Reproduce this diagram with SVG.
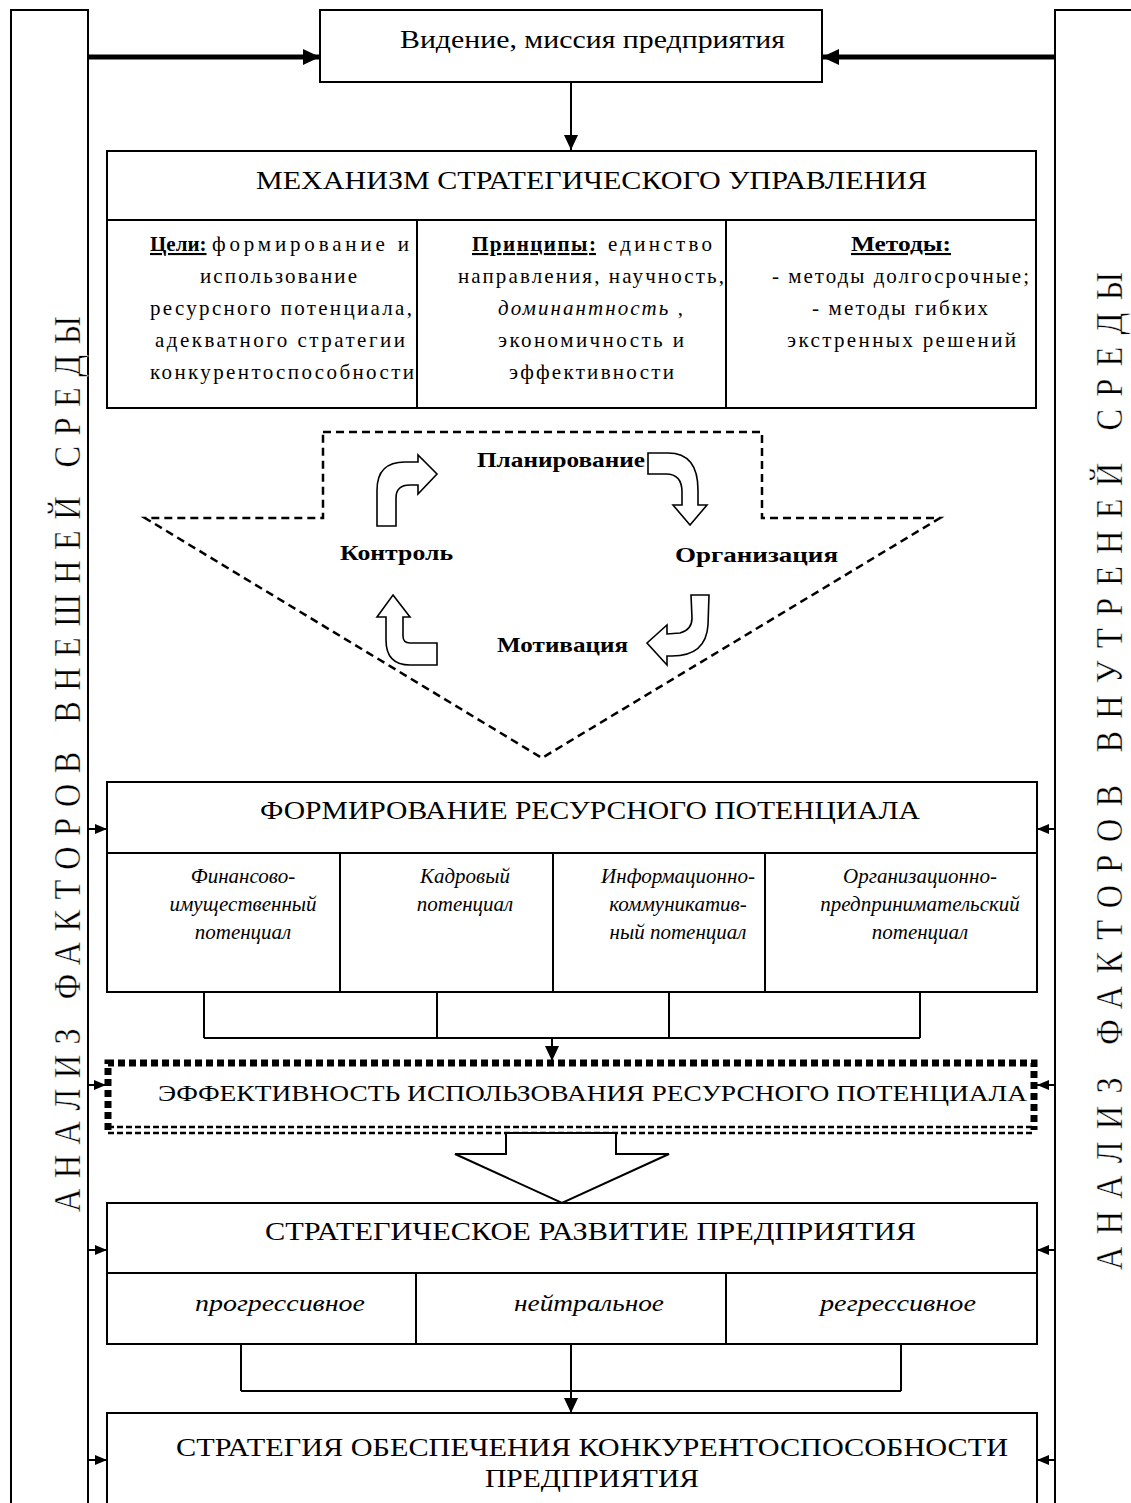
<svg xmlns="http://www.w3.org/2000/svg" width="1131" height="1503" viewBox="0 0 1131 1503">
<defs>
<marker id="ah" markerWidth="12" markerHeight="10" refX="12" refY="5" orient="auto" markerUnits="userSpaceOnUse"><path d="M0,0 L12,5 L0,10 Z" fill="#000"/></marker>
<marker id="ahv" markerWidth="15" markerHeight="14" refX="15" refY="7" orient="auto" markerUnits="userSpaceOnUse"><path d="M0,0 L15,7 L0,14 Z" fill="#000"/></marker>
<marker id="ahb" markerWidth="17" markerHeight="16" refX="17" refY="8" orient="auto" markerUnits="userSpaceOnUse"><path d="M0,0 L17,8 L0,16 Z" fill="#000"/></marker>
</defs>
<style>
.ln{stroke:#000;stroke-width:2;fill:none}
.box{fill:#fff;stroke:#000;stroke-width:2}
.ha{fill:#fff;stroke:#000;stroke-width:1.6}
.t{font-family:"Liberation Serif","Times New Roman",serif;fill:#000}
.h{font-size:25px}
.c{font-size:21px}
.i{font-size:21px;font-style:italic}
.b{font-weight:bold}
.u{text-decoration:underline}
.v{font-size:38px;stroke:#fff;stroke-width:0.4}
</style>
<rect width="1131" height="1503" fill="#fff"/>

<g id="panel-left">
<path class="ln" d="M11 1503 V10 H88 V1503"/>
<text class="t v" transform="translate(80,1212) rotate(-90) scale(0.85,1)" textLength="1054" lengthAdjust="spacing">АНАЛИЗ ФАКТОРОВ ВНЕШНЕЙ СРЕДЫ</text>
</g>
<g id="panel-right">
<path class="ln" d="M1055 1503 V10 H1131"/>
<text class="t v" transform="translate(1122,1270) rotate(-90) scale(0.85,1)" textLength="1174" lengthAdjust="spacing">АНАЛИЗ ФАКТОРОВ ВНУТРЕНЕЙ СРЕДЫ</text>
</g>

<g id="vision">
<rect class="box" x="320" y="10" width="502" height="72"/>
<text class="t" x="400" y="48" font-size="26" textLength="385" lengthAdjust="spacingAndGlyphs">Видение, миссия предприятия</text>
</g>

<g id="mechanism">
<rect class="box" x="107" y="151" width="929" height="257"/>
<line class="ln" x1="107" y1="220" x2="1036" y2="220"/>
<line class="ln" x1="417" y1="220" x2="417" y2="408"/>
<line class="ln" x1="726" y1="220" x2="726" y2="408"/>
<text class="t h" x="256" y="189" textLength="671" lengthAdjust="spacingAndGlyphs">МЕХАНИЗМ СТРАТЕГИЧЕСКОГО УПРАВЛЕНИЯ</text>
<text class="t c b u" x="150" y="251">Цели:</text>
<text class="t c" x="212" y="251" textLength="197" lengthAdjust="spacing">формирование и</text>
<text class="t c" x="200" y="283" textLength="157" lengthAdjust="spacing">использование</text>
<text class="t c" x="150" y="315" textLength="262" lengthAdjust="spacing">ресурсного потенциала,</text>
<text class="t c" x="155" y="347" textLength="250" lengthAdjust="spacing">адекватного стратегии</text>
<text class="t c" x="150" y="379" textLength="264" lengthAdjust="spacing">конкурентоспособности</text>
<text class="t c b u" x="472" y="251" textLength="124" lengthAdjust="spacing">Принципы:</text>
<text class="t c" x="608" y="251" textLength="104" lengthAdjust="spacing">единство</text>
<text class="t c" x="458" y="283" textLength="266" lengthAdjust="spacing">направления, научность,</text>
<text class="t c" x="498" y="315" textLength="185" lengthAdjust="spacing"><tspan font-style="italic">доминантность</tspan> ,</text>
<text class="t c" x="498" y="347" textLength="186" lengthAdjust="spacing">экономичность и</text>
<text class="t c" x="509" y="379" textLength="165" lengthAdjust="spacing">эффективности</text>
<text class="t c b u" x="851" y="251" textLength="100" lengthAdjust="spacingAndGlyphs">Методы:</text>
<text class="t c" x="772" y="283" textLength="257" lengthAdjust="spacing">- методы долгосрочные;</text>
<text class="t c" x="812" y="315" textLength="176" lengthAdjust="spacing">- методы гибких</text>
<text class="t c" x="787" y="347" textLength="229" lengthAdjust="spacing">экстренных решений</text>
</g>

<g id="cycle">
<path d="M323 432 L762 432 L762 518 L940 518 L542 758 L145 518 L323 518 Z" fill="none" stroke="#000" stroke-width="2.5" stroke-dasharray="8 5"/>
<path class="ha" d="M377 526 L377 490 Q377 462 405 462 L418 462 L418 455 L437 474 L418 494 L418 485 L410 485 Q396 485 396 498 L396 526 Z"/>
<path class="ha" d="M648 453 L668 453 Q698 453 698 490 L698 505 L707 505 L690 525 L673 505 L682 505 L682 492 Q682 474 666 474 L648 474 Z"/>
<path class="ha" d="M691 595 L709 595 L708 625 Q706 656 672 656 L667 656 L667 665 L647 643 L667 625 L667 634 L680 633 Q692 630 692 618 Z"/>
<path class="ha" d="M393 595 L410 617 L403 617 L403 636 Q403 643 410 643 L437 643 L437 665 L410 665 Q386 665 386 640 L386 617 L377 617 Z"/>
<text class="t b" x="477" y="467" font-size="22" textLength="168" lengthAdjust="spacingAndGlyphs">Планирование</text>
<text class="t b" x="340" y="560" font-size="22" textLength="113" lengthAdjust="spacingAndGlyphs">Контроль</text>
<text class="t b" x="675" y="562" font-size="22" textLength="163" lengthAdjust="spacingAndGlyphs">Организация</text>
<text class="t b" x="497" y="652" font-size="22" textLength="131" lengthAdjust="spacingAndGlyphs">Мотивация</text>
</g>

<g id="formation">
<rect class="box" x="107" y="782" width="930" height="210"/>
<line class="ln" x1="107" y1="853" x2="1037" y2="853"/>
<line class="ln" x1="340" y1="853" x2="340" y2="992"/>
<line class="ln" x1="553" y1="853" x2="553" y2="992"/>
<line class="ln" x1="765" y1="853" x2="765" y2="992"/>
<text class="t h" x="260" y="819" textLength="660" lengthAdjust="spacingAndGlyphs">ФОРМИРОВАНИЕ РЕСУРСНОГО ПОТЕНЦИАЛА</text>
<g class="t i" text-anchor="middle">
<text x="243" y="883">Финансово-</text>
<text x="243" y="911">имущественный</text>
<text x="243" y="939">потенциал</text>
<text x="465" y="883">Кадровый</text>
<text x="465" y="911">потенциал</text>
<text x="678" y="883">Информационно-</text>
<text x="678" y="911">коммуникатив-</text>
<text x="678" y="939">ный потенциал</text>
<text x="920" y="883">Организационно-</text>
<text x="920" y="911">предпринимательский</text>
<text x="920" y="939">потенциал</text>
</g>
</g>

<g id="efficiency">
<path d="M108 1130 V1063 H1034 V1130" fill="none" stroke="#000" stroke-width="7" stroke-dasharray="7 4"/>
<line x1="108" y1="1127" x2="1034" y2="1127" stroke="#000" stroke-width="2.5" stroke-dasharray="6 3"/>
<line x1="108" y1="1133" x2="1034" y2="1133" stroke="#000" stroke-width="2.5" stroke-dasharray="6 3"/>
<text class="t" x="158" y="1101" font-size="24" textLength="869" lengthAdjust="spacingAndGlyphs">ЭФФЕКТИВНОСТЬ ИСПОЛЬЗОВАНИЯ  РЕСУРСНОГО ПОТЕНЦИАЛА</text>
</g>

<g id="development">
<rect class="box" x="107" y="1203" width="930" height="141"/>
<line class="ln" x1="107" y1="1273" x2="1037" y2="1273"/>
<line class="ln" x1="416" y1="1273" x2="416" y2="1344"/>
<line class="ln" x1="726" y1="1273" x2="726" y2="1344"/>
<text class="t" x="265" y="1240" font-size="26" textLength="651" lengthAdjust="spacingAndGlyphs">СТРАТЕГИЧЕСКОЕ РАЗВИТИЕ ПРЕДПРИЯТИЯ</text>
<text class="t" x="195" y="1311" font-size="24" font-style="italic" textLength="170" lengthAdjust="spacingAndGlyphs">прогрессивное</text>
<text class="t" x="514" y="1311" font-size="24" font-style="italic" textLength="150" lengthAdjust="spacingAndGlyphs">нейтральное</text>
<text class="t" x="820" y="1311" font-size="24" font-style="italic" textLength="156" lengthAdjust="spacingAndGlyphs">регрессивное</text>
</g>

<g id="strategy">
<rect class="box" x="107" y="1413" width="930" height="100"/>
<text class="t" x="176" y="1456" font-size="26" textLength="832" lengthAdjust="spacingAndGlyphs">СТРАТЕГИЯ ОБЕСПЕЧЕНИЯ КОНКУРЕНТОСПОСОБНОСТИ</text>
<text class="t" x="485" y="1487" font-size="26" textLength="214" lengthAdjust="spacingAndGlyphs">ПРЕДПРИЯТИЯ</text>
</g>

<g id="connectors">
<line x1="88" y1="57" x2="320" y2="57" stroke="#000" stroke-width="5" marker-end="url(#ahb)"/>
<line x1="1055" y1="57" x2="822" y2="57" stroke="#000" stroke-width="5" marker-end="url(#ahb)"/>
<line class="ln" x1="571" y1="82" x2="571" y2="150" marker-end="url(#ahv)"/>
<path class="ln" d="M204 992 V1038 M437 992 V1038 M669 992 V1038 M920 992 V1038 M204 1038 H920"/>
<line class="ln" x1="552" y1="1038" x2="552" y2="1061" marker-end="url(#ahv)"/>
<path class="box" d="M506 1133 L506 1154 L455 1154 L562 1203 L669 1154 L616 1154 L616 1133 Z"/>
<path class="ln" d="M241 1344 V1391 M571 1344 V1391 M901 1344 V1391 M241 1391 H901"/>
<line class="ln" x1="571" y1="1391" x2="571" y2="1413" marker-end="url(#ahv)"/>
<line class="ln" x1="88" y1="829" x2="107" y2="829" marker-end="url(#ah)"/>
<line class="ln" x1="88" y1="1085" x2="106" y2="1085" marker-end="url(#ah)"/>
<line class="ln" x1="88" y1="1250" x2="107" y2="1250" marker-end="url(#ah)"/>
<line class="ln" x1="88" y1="1460" x2="107" y2="1460" marker-end="url(#ah)"/>
<line class="ln" x1="1055" y1="829" x2="1037" y2="829" marker-end="url(#ah)"/>
<line class="ln" x1="1055" y1="1085" x2="1037" y2="1085" marker-end="url(#ah)"/>
<line class="ln" x1="1055" y1="1250" x2="1037" y2="1250" marker-end="url(#ah)"/>
<line class="ln" x1="1055" y1="1460" x2="1037" y2="1460" marker-end="url(#ah)"/>
</g>
</svg>
